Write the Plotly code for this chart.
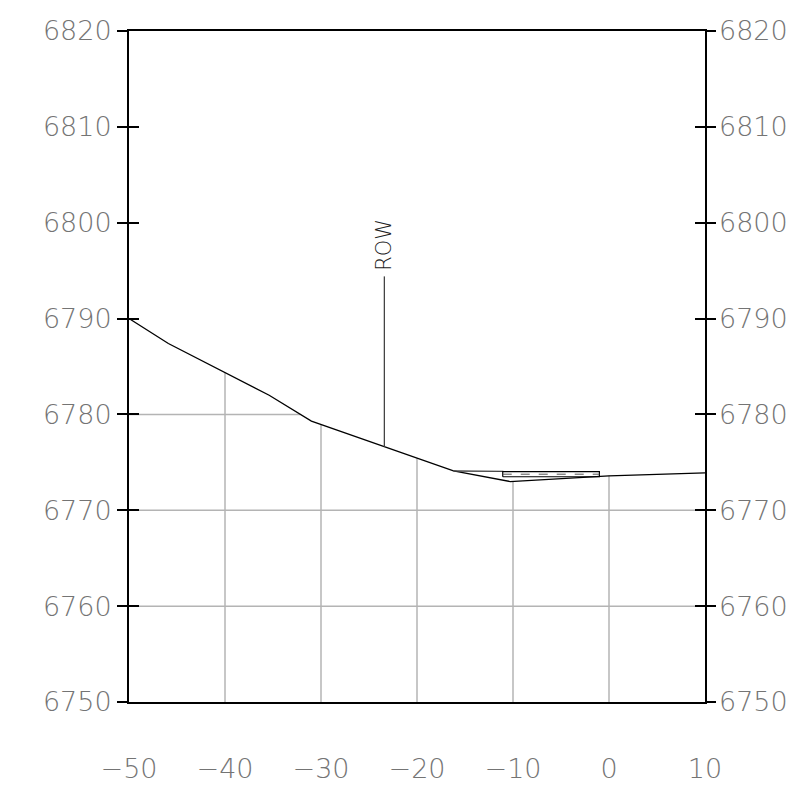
import numpy as np
import plotly.graph_objects as go

# ground profile: offset (ft) vs elevation
ground_x = [-50.0, -45.9, -35.4, -31.0, -16.2, -10.3, 0.0, 10.0]
ground_y = [6790.0, 6787.4, 6782.0, 6779.3, 6774.1, 6773.0, 6773.6, 6773.9]

# upper edge running from the break to the structure
upper_x = [-16.2, -11.0]
upper_y = [6774.1, 6774.05]

# box structure (left/right, bottom/top)
box_x = [-11.07, -1.0]
box_y = [6773.5, 6774.03]

# right-of-way marker
row_x = -23.4
row_top = 6794.4
row_label = "ROW"

x_ticks = [-50, -40, -30, -20, -10, 0, 10]
y_ticks = [6750, 6760, 6770, 6780, 6790, 6800, 6810, 6820]
x_range = [-50, 10]
y_range = [6750, 6820]

GRID = "#b4b4b4"
LABEL = "#747474"
FONT = "DejaVu Sans"


def crossing_x(level):
    """x where the ground first drops to the given elevation (from the left)."""
    if ground_y[0] <= level:
        return None
    for i in range(len(ground_x) - 1):
        y0, y1 = ground_y[i], ground_y[i + 1]
        if y1 <= level < y0:
            t = (y0 - level) / (y0 - y1)
            return ground_x[i] + t * (ground_x[i + 1] - ground_x[i])
    return x_range[1]


# grid only below the ground surface
gx, gy = [], []
for xv in x_ticks[1:-1]:
    top = float(np.interp(xv, ground_x, ground_y))
    gx += [xv, xv, None]
    gy += [y_range[0], top, None]
for yv in y_ticks[1:-1]:
    xe = crossing_x(yv)
    if xe is None or xe <= x_range[0]:
        continue
    gx += [x_range[0], xe, None]
    gy += [yv, yv, None]

fig = go.Figure()

fig.add_trace(go.Scatter(x=gx, y=gy, mode="lines",
                         line=dict(color=GRID, width=1.5), hoverinfo="skip"))

fig.add_trace(go.Scatter(x=ground_x, y=ground_y, mode="lines",
                         line=dict(color="black", width=1.3)))

fig.add_trace(go.Scatter(x=upper_x, y=upper_y, mode="lines",
                         line=dict(color="#444444", width=1.3)))

# structure outline and its dashed centre line
bx = [box_x[0], box_x[1], box_x[1], box_x[0], box_x[0]]
by = [box_y[0], box_y[0], box_y[1], box_y[1], box_y[0]]
fig.add_trace(go.Scatter(x=bx, y=by, mode="lines",
                         line=dict(color="black", width=1.2)))
mid = (box_y[0] + box_y[1]) / 2
fig.add_trace(go.Scatter(x=box_x, y=[mid, mid], mode="lines",
                         line=dict(color="#555555", width=1, dash="dash")))

# ROW marker
row_base = float(np.interp(row_x, ground_x, ground_y))
fig.add_trace(go.Scatter(x=[row_x, row_x], y=[row_base, row_top], mode="lines",
                         line=dict(color="#444444", width=1.3)))
fig.add_annotation(x=row_x, y=row_top, text=row_label, textangle=-90,
                   showarrow=False, xanchor="center", yanchor="bottom",
                   yshift=4, font=dict(family=FONT, size=21, color="#222222",
                                       weight=300))

tfont = dict(family=FONT, size=27, color=LABEL, weight=200)
yax = dict(range=y_range, tickvals=y_ticks, showgrid=False, zeroline=False,
           ticklen=10, tickwidth=1.5, tickcolor="black", automargin=False,
           tickfont=tfont)

# the page body adds an 8px offset, so the figure is sized to fit inside
fig.update_layout(
    width=788, height=791,
    margin=dict(l=121, r=91, t=23, b=97),
    plot_bgcolor="white", paper_bgcolor="white",
    showlegend=False,
    xaxis=dict(range=x_range, tickvals=x_ticks, showgrid=False, zeroline=False,
               showline=True, mirror=True, linecolor="black", linewidth=2,
               ticks="", ticklabelstandoff=42, automargin=False,
               tickfont=tfont),
    yaxis=dict(yax, side="left", ticks="outside", showline=True, mirror=True,
               linecolor="black", linewidth=2),
    yaxis2=dict(yax, overlaying="y", side="right", ticks="",
                ticklabelstandoff=13),
    yaxis3=dict(yax, overlaying="y", side="left", ticks="inside",
                showticklabels=False),
    yaxis4=dict(yax, overlaying="y", side="right", ticks="inside",
                showticklabels=False),
    yaxis5=dict(yax, overlaying="y", side="right", ticks="outside",
                showticklabels=False),
)

# dummy traces so the overlay axes are drawn
for ax in ["y2", "y3", "y4", "y5"]:
    fig.add_trace(go.Scatter(x=[None], y=[None], yaxis=ax, hoverinfo="skip"))

fig.write_html("out.html")
